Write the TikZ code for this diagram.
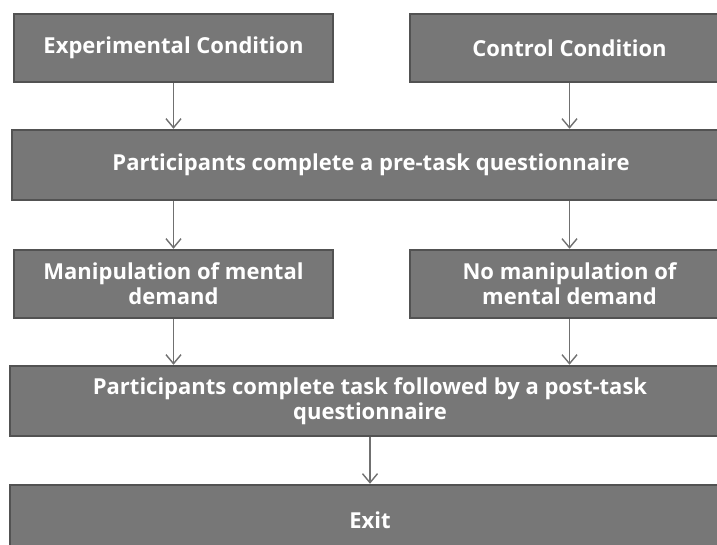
\documentclass[tikz,border=0pt]{standalone}
\usepackage{fontspec}
\setmainfont{Open Sans}
\usetikzlibrary{arrows.meta}
\definecolor{boxfill}{RGB}{119,119,119}
\definecolor{boxline}{RGB}{82,82,82}
\definecolor{arrowgray}{RGB}{112,112,112}
\tikzset{
  box/.style={draw=boxline, line width=2.5pt, fill=boxfill, text=white,
    font=\bfseries\fontsize{22}{25}\selectfont, align=center, inner sep=0pt,
    minimum height=68pt},
  flow/.style={draw=arrowgray, line width=1.4pt, -{Straight Barb[length=9pt,width=15pt]}}
}
\begin{document}
\begin{tikzpicture}[x=1pt, y=-1pt]
            \useasboundingbox (0,0) rectangle (717,544);
            % Conditions
            \node[box, minimum width=319pt] (exp) at (173.5,48) {Experimental Condition};
            \node[box, minimum width=319pt] (ctrl) at (569.5,48) {Control Condition};
            
            \node[box, minimum width=718pt, minimum height=70pt] (pre) at (371,165) {Participants complete a pre-task questionnaire};
            
            % Manipulation
            \node[box, minimum width=319pt] (manip) at (173.5,284) {Manipulation of mental\\demand};
            \node[box, minimum width=319pt] (nomanip) at (569.5,284) {No manipulation of\\mental demand};
            
            \node[box, minimum width=720pt, minimum height=70pt] (post) at (370,401) {Participants complete task followed by a post-task\\questionnaire};
            \node[box, minimum width=720pt, minimum height=70pt] (exit) at (370,520) {Exit};
            
            \draw[flow] (exp) -- (exp |- pre.north);
            \draw[flow] (ctrl) -- (ctrl |- pre.north);
            \draw[flow] (pre.south -| manip) -- (manip);
            \draw[flow] (pre.south -| nomanip) -- (nomanip);
            \draw[flow] (manip) -- (manip |- post.north);
            \draw[flow] (nomanip) -- (nomanip |- post.north);
            \draw[flow] (post) -- (exit);
\end{tikzpicture}
\end{document}
